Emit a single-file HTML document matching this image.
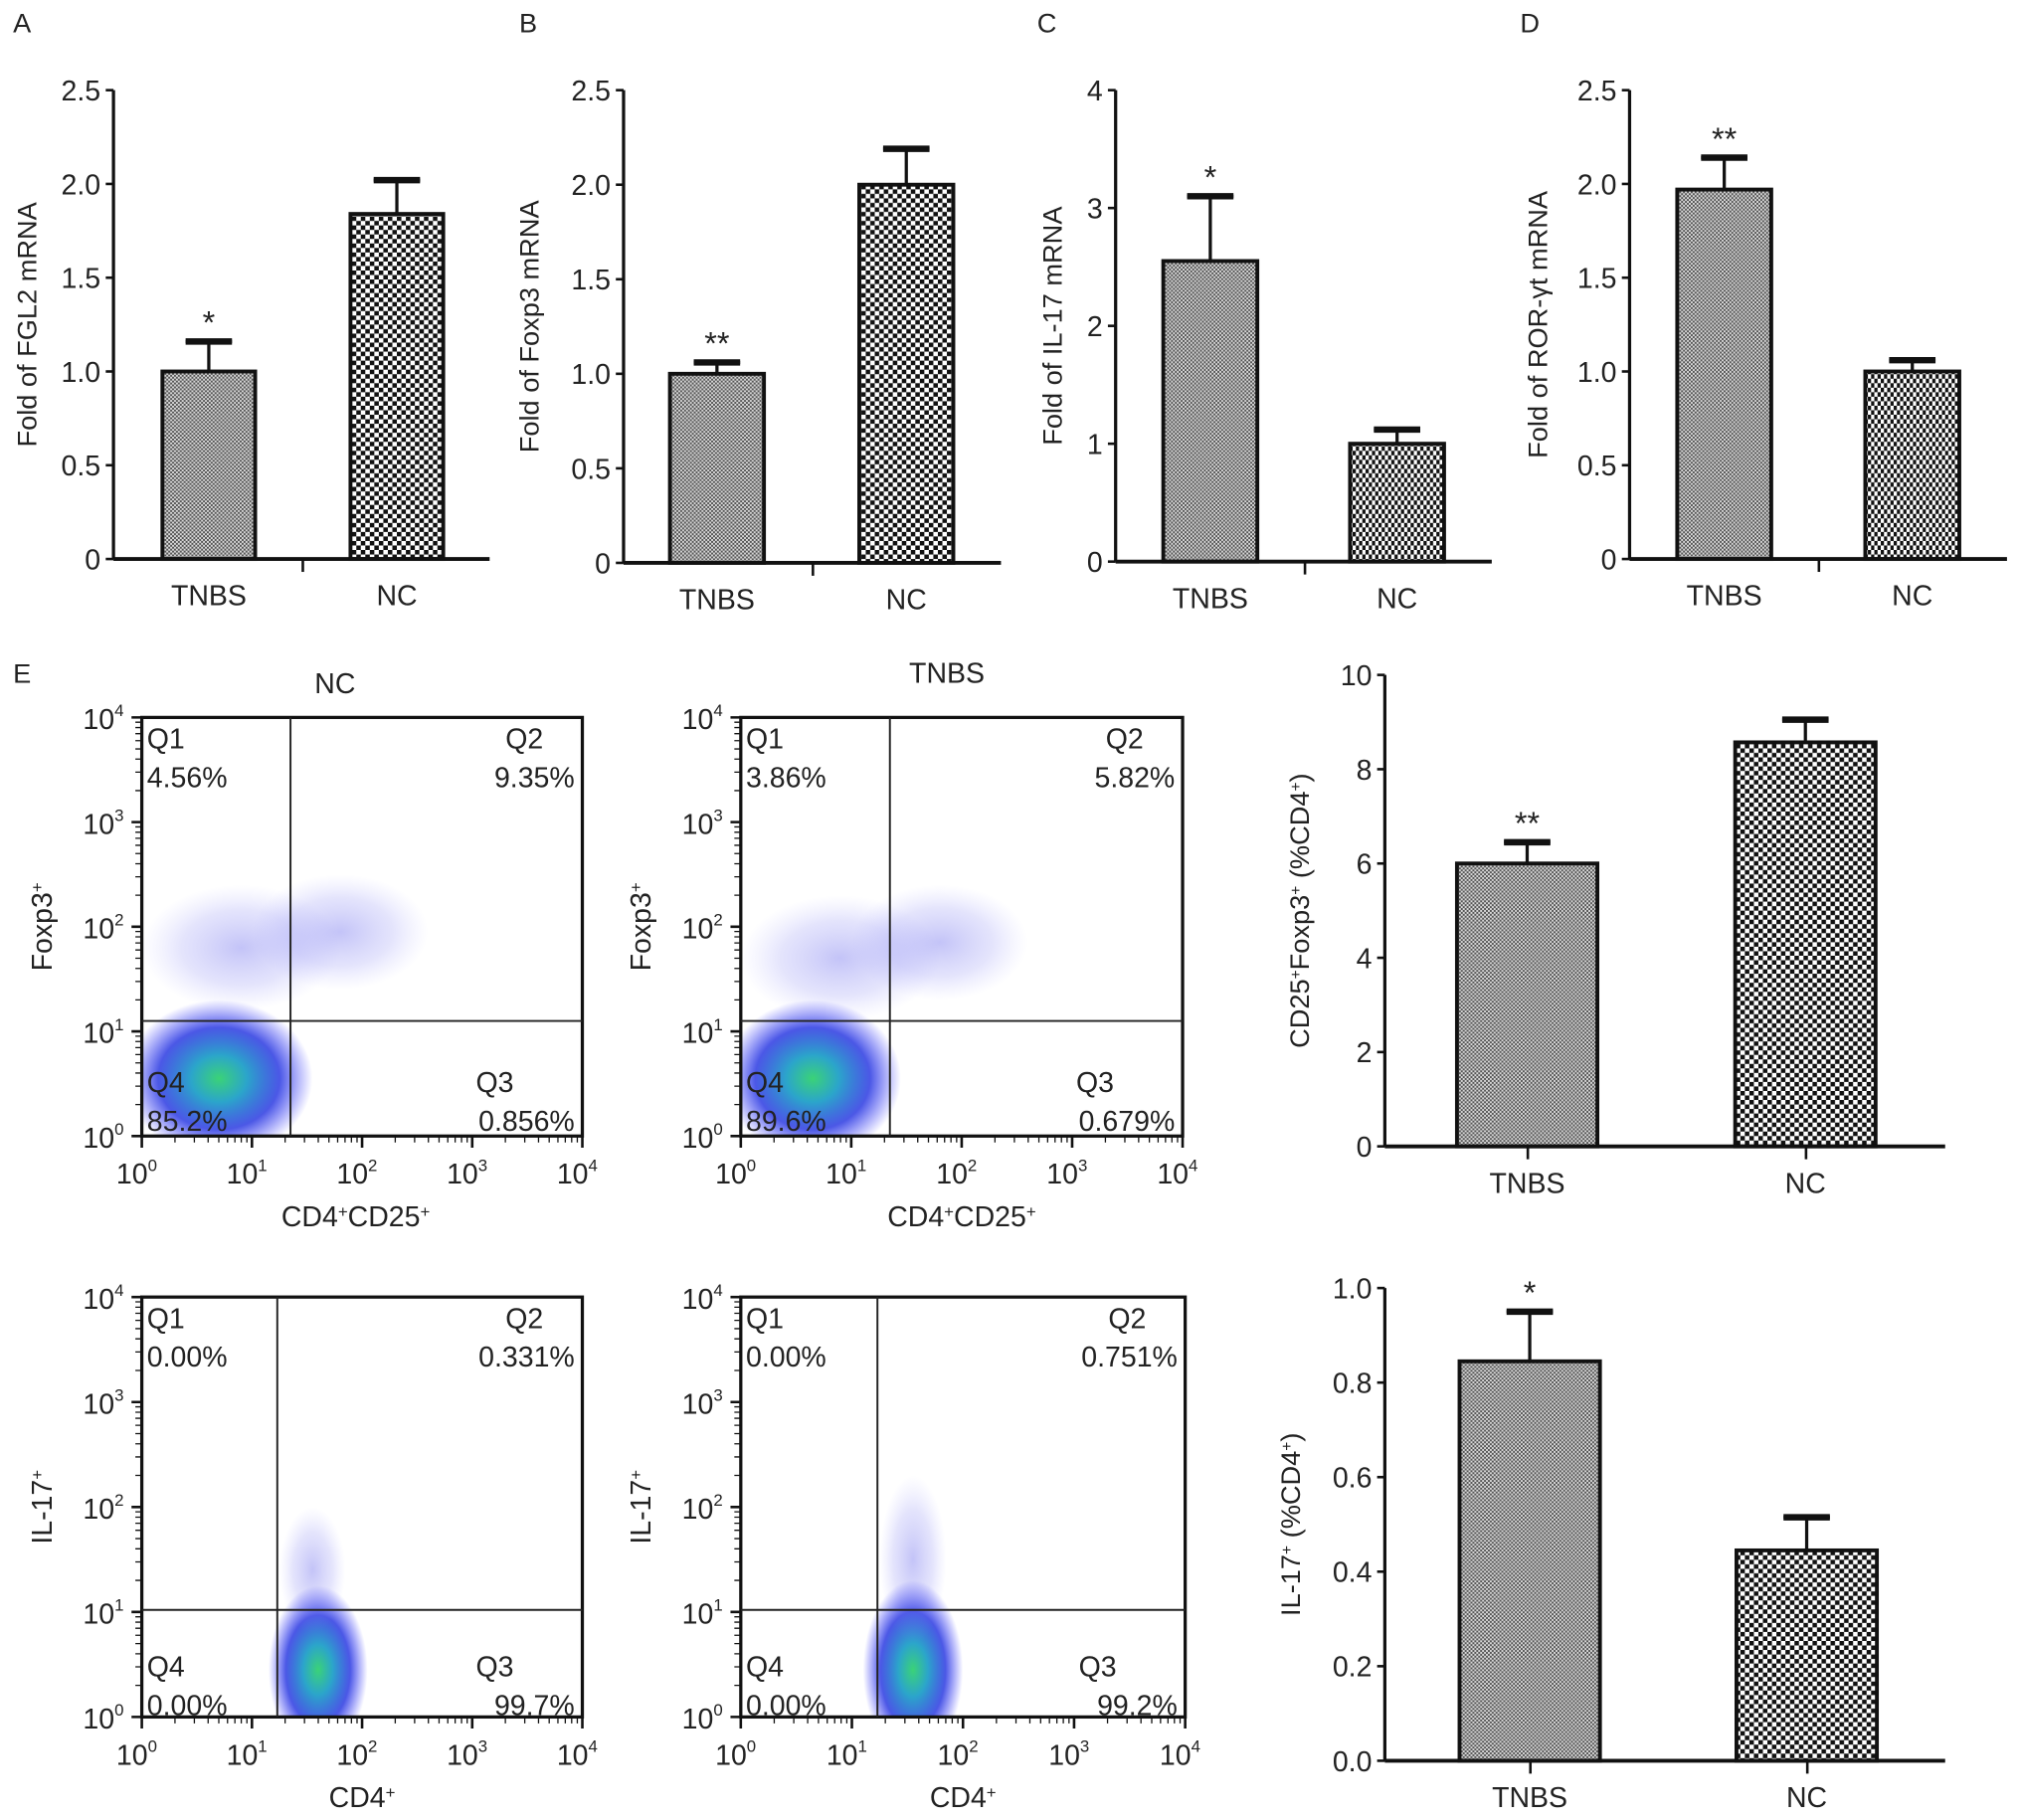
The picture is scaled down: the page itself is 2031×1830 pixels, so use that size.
<!DOCTYPE html>
<html><head><meta charset="utf-8"><style>
html,body{margin:0;padding:0;background:#fff;}
svg{display:block;font-family:"Liberation Sans",Arial,sans-serif;}
</style></head><body>
<svg id="fig" width="2031" height="1830" viewBox="0 0 1568 1413" xmlns="http://www.w3.org/2000/svg">
<defs>
<pattern id="pTNBS" width="3" height="3" patternUnits="userSpaceOnUse"><rect width="3" height="3" fill="#d8d8d8"/><rect width="1.5" height="1.5" fill="#555"/><rect x="1.5" y="1.5" width="1.5" height="1.5" fill="#555"/></pattern>
<pattern id="pNC" width="7" height="7" patternUnits="userSpaceOnUse"><rect width="7" height="7" fill="#fff"/><rect width="3.5" height="3.5" fill="#111"/><rect x="3.5" y="3.5" width="3.5" height="3.5" fill="#111"/></pattern>
<pattern id="pNC2" width="5" height="7" patternUnits="userSpaceOnUse"><rect width="5" height="7" fill="#fff"/><rect width="2.5" height="3.5" fill="#111"/><rect x="2.5" y="3.5" width="2.5" height="3.5" fill="#111"/></pattern>
<radialGradient id="gBlue"><stop offset="0" stop-color="#4a4ae8" stop-opacity="0.55"/><stop offset="0.6" stop-color="#6a6af0" stop-opacity="0.3"/><stop offset="1" stop-color="#9090ff" stop-opacity="0"/></radialGradient>
<radialGradient id="gDense"><stop offset="0" stop-color="#30d070"/><stop offset="0.3" stop-color="#20a0c8"/><stop offset="0.65" stop-color="#2030e0" stop-opacity="0.85"/><stop offset="1" stop-color="#3030ff" stop-opacity="0"/></radialGradient>
</defs>
<g id="root"></g>
</svg>
<script>
// ---- data ----
const catsAll = ["TNBS","NC"];
const aValues = [1.0, 1.84];  const aErr = [1.16, 2.02];
const aTicks = ["0","0.5","1.0","1.5","2.0","2.5"]; const aTickVals=[0,0.5,1,1.5,2,2.5];
const bValues = [1.0, 2.0];   const bErr = [1.06, 2.19];
const bTicks = ["0","0.5","1.0","1.5","2.0","2.5"]; const bTickVals=[0,0.5,1,1.5,2,2.5];
const cValues = [2.55, 1.0];  const cErr = [3.1, 1.12];
const cTicks = ["0","1","2","3","4"]; const cTickVals=[0,1,2,3,4];
const dValues = [1.97, 1.0];  const dErr = [2.14, 1.06];
const dTicks = ["0","0.5","1.0","1.5","2.0","2.5"]; const dTickVals=[0,0.5,1,1.5,2,2.5];
const eValues = [6.0, 8.57];  const eErr = [6.45, 9.05];
const eTicks = ["0","2","4","6","8","10"]; const eTickVals=[0,2,4,6,8,10];
const fValues = [0.845, 0.445]; const fErr = [0.95, 0.515];
const fTicks = ["0.0","0.2","0.4","0.6","0.8","1.0"]; const fTickVals=[0,0.2,0.4,0.6,0.8,1.0];
const decadeLabels = ["0","1","2","3","4"];
const flow1Pct = ["4.56%","9.35%","0.856%","85.2%"];
const flow2Pct = ["3.86%","5.82%","0.679%","89.6%"];
const flow3Pct = ["0.00%","0.331%","99.7%","0.00%"];
const flow4Pct = ["0.00%","0.751%","99.2%","0.00%"];
// clouds: [log10 x, log10 y, log-radius x, log-radius y, kind]
const flow1Clouds = [[0.9,1.8,0.9,0.6,"b"],[1.8,1.95,0.8,0.55,"b"],[0.7,0.55,0.85,0.75,"d"]];
const flow2Clouds = [[0.9,1.7,0.9,0.6,"b"],[1.8,1.85,0.8,0.55,"b"],[0.65,0.55,0.8,0.75,"d"]];
const flow3Clouds = [[1.6,0.45,0.45,0.8,"d"],[1.55,1.4,0.3,0.6,"b"]];
const flow4Clouds = [[1.55,0.45,0.45,0.85,"d"],[1.55,1.5,0.3,0.8,"b"]];

const NS="http://www.w3.org/2000/svg";
const root=document.getElementById('root');
function mk(tag,attrs,parent){const e=document.createElementNS(NS,tag);for(const k in attrs)e.setAttribute(k,attrs[k]);(parent||root).appendChild(e);return e;}
function txt(x,y,s,size,anchor,parent,rot){const t=mk('text',{x:x,y:y,'font-size':size,'text-anchor':anchor||'middle',fill:'#222'},parent);if(rot)t.setAttribute('transform','rotate(-90 '+x+' '+y+')');t.textContent=s;return t;}

function barChart(o){
  const g=mk('g',{});
  
  
  const ymax=o.tickVals[o.tickVals.length-1];
  const Y=v=>o.y0-(o.y0-o.yTop)*v/ymax;
  o.values.forEach((v,i)=>{
    const x=o.barX[i];
    const r=mk('rect',{x:x,y:Y(v),width:o.bw,height:o.y0-Y(v),fill:i==0?'url(#pTNBS)':(o.nc2?'url(#pNC2)':'url(#pNC)'),stroke:'#111','stroke-width':3},g);
    
    
    const cx=x+o.bw/2;
    const e=mk('path',{d:'M'+cx+' '+Y(v)+'V'+Y(o.err[i])+'M'+(cx-18)+' '+Y(o.err[i])+'H'+(cx+18),stroke:'#111','stroke-width':2.5,fill:'none'},g);
    
    
    mk('path',{d:'M'+(cx-18)+' '+Y(o.err[i])+'H'+(cx+18),stroke:'#111','stroke-width':5},g);
    const lt=txt(cx,o.y0+36,catsAll[i],22,'middle',g);
    
    
    if(o.stars[i]){const st=txt(cx,Y(o.err[i])-6,o.stars[i],25,'middle',g);}
  });
  mk('path',{d:'M'+o.x0+' '+o.yTop+'V'+o.y0,stroke:'#111','stroke-width':2.5},g);
  mk('path',{d:'M'+o.x0+' '+o.y0+'H'+o.xEnd,stroke:'#111','stroke-width':3},g);
  o.tickVals.forEach((v,i)=>{
    mk('path',{d:'M'+(o.x0-6)+' '+Y(v)+'H'+o.x0,stroke:'#111','stroke-width':2},g);
    const t=txt(o.x0-10,Y(v)+8,o.ticks[i],22,'end',g);
    
    
  });
  o.xTicks.forEach(x=>mk('path',{d:'M'+x+' '+o.y0+'V'+(o.y0+10),stroke:'#111','stroke-width':2},g));
  const yt=txt(o.titleX,(o.yTop+o.y0)/2,'',21,'middle',g,true);
  yt.innerHTML=o.title;
  
  
}
barChart({name:'chart-a-fgl2',values:aValues,err:aErr,ticks:aTicks,tickVals:aTickVals,x0:88,xEnd:380,y0:434,yTop:70,barX:[126,272],bw:72,xTicks:[235],stars:['*',''],titleX:28,title:'Fold of FGL2 mRNA'});
barChart({name:'chart-b-foxp3',values:bValues,err:bErr,ticks:bTicks,tickVals:bTickVals,x0:484,xEnd:777,y0:437,yTop:70,barX:[520,667],bw:73,xTicks:[631],stars:['**',''],titleX:418,title:'Fold of Foxp3 mRNA'});
barChart({name:'chart-c-il17',values:cValues,err:cErr,ticks:cTicks,tickVals:cTickVals,x0:866,xEnd:1158,y0:436,yTop:70,barX:[903,1048],bw:73,xTicks:[1013],stars:['*',''],titleX:824,title:'Fold of IL-17 mRNA',nc2:true});
barChart({name:'chart-d-rorgt',values:dValues,err:dErr,ticks:dTicks,tickVals:dTickVals,x0:1265,xEnd:1558,y0:434,yTop:70,barX:[1302,1448],bw:73,xTicks:[1412],stars:['**',''],titleX:1201,title:'Fold of ROR-γt mRNA',nc2:true});
barChart({name:'chart-e-treg-percent',values:eValues,err:eErr,ticks:eTicks,tickVals:eTickVals,x0:1075,xEnd:1510,y0:890,yTop:524,barX:[1131,1347],bw:109,xTicks:[1186,1402],stars:['**',''],titleX:1016,title:'CD25<tspan baseline-shift="super" font-size="12">+</tspan>Foxp3<tspan baseline-shift="super" font-size="12">+</tspan> (%CD4<tspan baseline-shift="super" font-size="12">+</tspan>)'});
barChart({name:'chart-e-th17-percent',values:fValues,err:fErr,ticks:fTicks,tickVals:fTickVals,x0:1075,xEnd:1510,y0:1367,yTop:1000,barX:[1133,1348],bw:109,xTicks:[1188,1403],stars:['*',''],titleX:1009,title:'IL-17<tspan baseline-shift="super" font-size="12">+</tspan> (%CD4<tspan baseline-shift="super" font-size="12">+</tspan>)'});

function flow(o){
  const g=mk('g',{});
  
  
  const dx=(o.x1-o.x0)/4, dy=(o.y0-o.y1)/4;
  const X=l=>o.x0+dx*l, Y=l=>o.y0-dy*l;
  const clip='c'+o.name;
  const cp=mk('clipPath',{id:clip},g);mk('rect',{x:o.x0,y:o.y1,width:o.x1-o.x0,height:o.y0-o.y1},cp);
  const cg=mk('g',{'clip-path':'url(#'+clip+')'},g);
  o.clouds.forEach(c=>{
    const el=mk('ellipse',{cx:X(c[0]),cy:Y(c[1]),rx:dx*c[2],ry:dy*c[3],fill:c[4]=='d'?'url(#gDense)':'url(#gBlue)',opacity:c[4]=='d'?0.95:0.6},cg);
    
    
  });
  mk('rect',{x:o.x0,y:o.y1,width:o.x1-o.x0,height:o.y0-o.y1,fill:'none',stroke:'#111','stroke-width':2.5},g);
  const gx=X(o.gate[0]), gy=Y(o.gate[1]);
  const gl=mk('path',{d:'M'+gx+' '+o.y1+'V'+o.y0+'M'+o.x0+' '+gy+'H'+o.x1,stroke:'#222','stroke-width':1.5},g);
  
  
  for(let d=0;d<=4;d++){
    mk('path',{d:'M'+X(d)+' '+o.y0+'v9M'+(o.x0-8)+' '+Y(d)+'h8',stroke:'#111','stroke-width':2},g);
    if(d<4)for(let m=2;m<10;m++){const l=d+Math.log10(m);mk('path',{d:'M'+X(l)+' '+o.y0+'v5M'+(o.x0-5)+' '+Y(l)+'h5',stroke:'#111','stroke-width':1},g);}
    const tx=mk('text',{x:X(d)-4,y:o.y0+37,'font-size':22,'text-anchor':'middle',fill:'#222'},g);
    tx.innerHTML='10<tspan dy="-10" font-size="13">'+decadeLabels[d]+'</tspan>';
    
    
    const ty=mk('text',{x:o.x0-14,y:Y(d)+9,'font-size':22,'text-anchor':'end',fill:'#222'},g);
    ty.innerHTML='10<tspan dy="-10" font-size="13">'+decadeLabels[d]+'</tspan>';
    
    
  }
  const p=o.pct;
  const q=[[o.x0+4,o.y1+24,'Q1'],[o.x1-4,o.y1+24,'Q2'],[o.x1-8,gy+(o.y0-gy)*0.55+6,'Q3'],[o.x0+4,gy+(o.y0-gy)*0.55+6,'Q4']];
  q.forEach((e,i)=>{
    const qa=txt(i==1?o.x1-45:(i==2?o.x1-68:e[0]),e[1],e[2],22,i==1||i==2?'middle':'start',g);
    
    
    const pa=txt(i==1||i==2?o.x1-6:e[0],e[1]+30,p[i],22,i==1||i==2?'end':'start',g);
    
    
  });
  const xt=mk('text',{x:(o.x0+o.x1)/2+(o.xtOff||0),y:o.y0+70,'font-size':22,'text-anchor':'middle',fill:'#222'},g);
  xt.innerHTML=o.xTitle;
  
  
  const yt=mk('text',{x:o.x0-70,y:(o.y0+o.y1)/2,'font-size':22,'text-anchor':'middle',fill:'#222',transform:'rotate(-90 '+(o.x0-70)+' '+((o.y0+o.y1)/2)+')'},g);
  yt.innerHTML=o.yTitle;
  
  
  if(o.title){const t=txt(o.titleX,o.titleY,o.title,22,'middle',g);}
}
const sup='<tspan baseline-shift="super" font-size="13">+</tspan>';
flow({name:'flow-nc-treg',x0:110,x1:452,y0:882,y1:557,gate:[1.35,1.1],clouds:flow1Clouds,pct:flow1Pct,xTitle:'CD4'+sup+'CD25'+sup,yTitle:'Foxp3'+sup,title:'NC',titleX:260,titleY:538,xtOff:-5});
flow({name:'flow-tnbs-treg',x0:575,x1:918,y0:882,y1:557,gate:[1.35,1.1],clouds:flow2Clouds,pct:flow2Pct,xTitle:'CD4'+sup+'CD25'+sup,yTitle:'Foxp3'+sup,title:'TNBS',titleX:735,titleY:530,xtOff:0});
flow({name:'flow-nc-th17',x0:110,x1:452,y0:1333,y1:1007,gate:[1.23,1.02],clouds:flow3Clouds,pct:flow3Pct,xTitle:'CD4'+sup,yTitle:'IL-17'+sup,xtOff:0});
flow({name:'flow-tnbs-th17',x0:575,x1:920,y0:1333,y1:1007,gate:[1.23,1.02],clouds:flow4Clouds,pct:flow4Pct,xTitle:'CD4'+sup,yTitle:'IL-17'+sup,xtOff:0});

[['A',10,25],['B',403,25],['C',805,25],['D',1180,25],['E',10,530]].forEach(p=>{const t=txt(p[1],p[2],p[0],21,'start');});
</script>
</body></html>
